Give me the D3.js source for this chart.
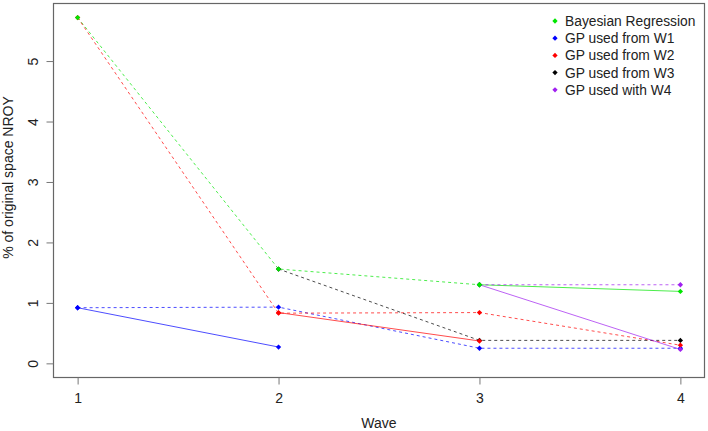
<!DOCTYPE html>
<html><head><meta charset="utf-8">
<script src="https://cdn.jsdelivr.net/npm/d3@7"></script>
<style>body{margin:0;background:#fff}svg{display:block;font-family:"Liberation Sans",Arial,Helvetica,sans-serif}</style>
</head><body><svg id="c" width="708" height="431"></svg>
<script>
const waves = [1, 2, 3, 4];
const yTickValues = [0, 1, 2, 3, 4, 5];
const seriesNames = ["Bayesian Regression", "GP used from W1", "GP used from W2", "GP used from W3", "GP used with W4"];
const seriesColors = ["#00e600", "#0000ff", "#ff0000", "#000000", "#a020f0"];

// Bayesian Regression
const brDashedX = [1, 2, 3], brDashedY = [5.72, 1.56, 1.30];
const brSolidX = [3, 4], brSolidY = [1.30, 1.19];
// GP used from W1
const w1SolidX = [1, 2], w1SolidY = [0.92, 0.27];
const w1DashedX = [1, 2, 3, 4], w1DashedY = [0.92, 0.93, 0.25, 0.25];
// GP used from W2
const w2DashedX = [1, 2, 3, 4], w2DashedY = [5.72, 0.83, 0.84, 0.30];
const w2SolidX = [2, 3], w2SolidY = [0.84, 0.37];
// GP used from W3
const w3DashedX = [2, 3, 4], w3DashedY = [1.56, 0.38, 0.38];
// GP used with W4
const w4SolidX = [3, 4], w4SolidY = [1.30, 0.23];
const w4DashedX = [3, 4], w4DashedY = [1.30, 1.30];

const lines = [
  {s: 0, dashed: true, xs: brDashedX, ys: brDashedY},
  {s: 0, dashed: false, xs: brSolidX, ys: brSolidY},
  {s: 1, dashed: false, xs: w1SolidX, ys: w1SolidY},
  {s: 1, dashed: true, xs: w1DashedX, ys: w1DashedY},
  {s: 2, dashed: true, xs: w2DashedX, ys: w2DashedY},
  {s: 2, dashed: false, xs: w2SolidX, ys: w2SolidY},
  {s: 3, dashed: true, xs: w3DashedX, ys: w3DashedY},
  {s: 4, dashed: false, xs: w4SolidX, ys: w4SolidY},
  {s: 4, dashed: true, xs: w4DashedX, ys: w4DashedY}
];
const pointOrder = [1, 3, 2, 4, 0];

const svg = d3.select("#c");
const L = 53.5, R = 704.5, T = 3.5, B = 377.5;
const x = d3.scaleLinear().domain([0.88, 4.12]).range([L, R]);
const y = d3.scaleLinear().domain([-0.234, 5.952]).range([B, T]);

const diamond = d3.symbol().type(d3.symbolSquare).size(14);

const plot = svg.append("g");
lines.forEach(ln => {
  const pts = ln.xs.map((v, i) => [v, ln.ys[i]]);
  plot.append("path")
    .attr("d", d3.line().x(d => x(d[0])).y(d => y(d[1]))(pts))
    .attr("fill", "none")
    .attr("stroke", seriesColors[ln.s])
    .attr("stroke-width", 1)
    .attr("stroke-opacity", 0.7)
    .attr("stroke-dasharray", ln.dashed ? "3,3" : null);
});
pointOrder.forEach(s => {
  lines.filter(ln => ln.s === s).forEach(ln => {
    const pts = ln.xs.map((v, i) => [v, ln.ys[i]]);
    plot.selectAll(null).data(pts).enter().append("path")
      .attr("d", diamond)
      .attr("transform", d => `translate(${x(d[0])},${y(d[1])}) rotate(45)`)
      .attr("fill", seriesColors[s]);
  });
});

// box
svg.append("rect").attr("x", L).attr("y", T).attr("width", R - L).attr("height", B - T)
  .attr("fill", "none").attr("stroke", "#666").attr("stroke-width", 1.2);

// axes
const xAxis = svg.append("g").attr("transform", `translate(0,${B})`)
  .call(d3.axisBottom(x).tickValues(waves).tickFormat(d3.format("d")).tickSize(7).tickPadding(9));
xAxis.select(".domain").remove();
xAxis.selectAll("line").attr("stroke", "#777");
xAxis.selectAll("text").attr("font-size", 14).attr("fill", "#222").attr("font-family", null);

const yAxis = svg.append("g").attr("transform", `translate(${L},0)`)
  .call(d3.axisLeft(y).tickValues(yTickValues).tickFormat(d3.format("d")).tickSize(7).tickPadding(9));
yAxis.select(".domain").remove();
yAxis.selectAll("line").attr("stroke", "#777");
yAxis.selectAll("text").attr("font-size", 14).attr("fill", "#222").attr("font-family", null)
  .attr("x", null).attr("dy", null)
  .attr("text-anchor", "middle")
  .attr("transform", "translate(-20,0) rotate(-90)")
  .attr("dy", "0.35em");

// axis titles
svg.append("text").attr("x", (L + R) / 2).attr("y", 428).attr("text-anchor", "middle")
  .attr("font-size", 14).attr("fill", "#222").text("Wave");
svg.append("text").attr("transform", `translate(13,${(T + B) / 2 - 13}) rotate(-90)`)
  .attr("text-anchor", "middle").attr("font-size", 14).attr("fill", "#222")
  .text("% of original space NROY");

// legend
const lg = svg.append("g");
seriesNames.forEach((name, i) => {
  const yy = 21 + i * 17.2;
  lg.append("path").attr("d", diamond).attr("transform", `translate(555,${yy}) rotate(45)`)
    .attr("fill", seriesColors[i]);
  lg.append("text").attr("x", 565).attr("y", yy).attr("dy", "0.36em")
    .attr("font-size", 13.8).attr("fill", "#222").text(name);
});
</script>
</body></html>
